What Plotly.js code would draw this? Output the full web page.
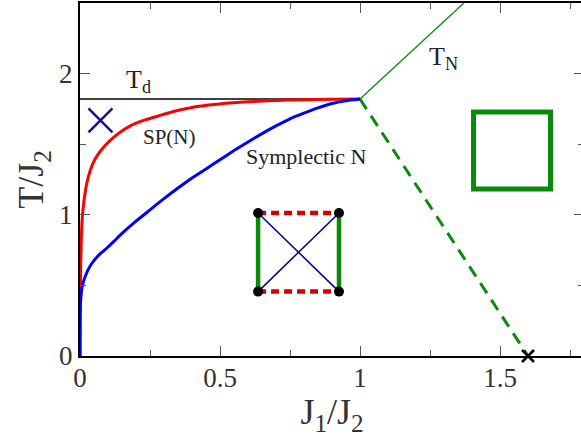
<!DOCTYPE html>
<html>
<head>
<meta charset="utf-8">
<script src="https://cdn.plot.ly/plotly-3.0.1.min.js"></script>
<style>
html,body{margin:0;padding:0;overflow:hidden;background:#fff;}
#chart{width:585px;height:437px;}
</style>
</head>
<body>
<div id="chart"></div>
<script>
// SP(N) curve (red)
const spJ = [0, 0.0005, 0.002, 0.005, 0.009, 0.015, 0.025, 0.036, 0.05, 0.065, 0.085, 0.11, 0.14, 0.18, 0.23, 0.28, 0.34, 0.40, 0.46, 0.52, 0.60, 0.70, 0.80, 0.90, 1.0];
const spT = [0, 0.30, 0.60, 0.85, 1.00, 1.11, 1.23, 1.31, 1.38, 1.43, 1.48, 1.53, 1.58, 1.63, 1.67, 1.70, 1.735, 1.76, 1.777, 1.79, 1.80, 1.81, 1.815, 1.818, 1.82];
// Symplectic N curve (blue)
const syJ = [0, 0.0003, 0.001, 0.003, 0.006, 0.012, 0.02, 0.03, 0.042, 0.06, 0.08, 0.10, 0.12, 0.15, 0.20, 0.25, 0.30, 0.35, 0.40, 0.45, 0.50, 0.55, 0.60, 0.65, 0.70, 0.75, 0.80, 0.85, 0.90, 0.95, 1.0];
const syT = [0, 0.22, 0.33, 0.415, 0.47, 0.525, 0.57, 0.615, 0.655, 0.70, 0.737, 0.772, 0.81, 0.868, 0.955, 1.035, 1.115, 1.19, 1.26, 1.325, 1.39, 1.455, 1.515, 1.575, 1.63, 1.68, 1.72, 1.757, 1.788, 1.808, 1.82];
// T_d line
const tdJ = [0, 1];
const tdT = [1.82, 1.82];
// T_N line
const tnJ = [1, 1.371];
const tnT = [1.82, 2.5];
// dashed boundary
const dashJ = [1, 1.6];
const dashT = [1.82, 0];
// end point marker
const endJ = [1.6];
const endT = [0];
// blue cross
const crossJ = [0.073];
const crossT = [1.668];
// green square symbol
const sqJ = [1.543];
const sqT = [1.455];
// inset plaquette corners
const insetJ = [0.636, 0.925];
const insetT = [0.456, 1.013];
const xTicks = [0, 0.5, 1, 1.5];
const xTickText = ['0', '0.5', '1', '1.5'];
const yTicks = [0, 1, 2];
const yTickText = ['0', '1', '2'];

const GREEN = '#0a8a0a';
const [inL, inR] = insetJ;
const [inB, inTop] = insetT;
const traces = [
  {x: tdJ, y: tdT, mode: 'lines', line: {color: '#000', width: 1.5}},
  {x: tnJ, y: tnT, mode: 'lines', line: {color: GREEN, width: 1.3}},
  {x: dashJ, y: dashT, mode: 'lines', line: {color: GREEN, width: 3, dash: '12px,8px'}},
  {x: spJ, y: spT, mode: 'lines', line: {color: '#ff0000', width: 3, shape: 'spline', smoothing: 0.4}},
  {x: syJ, y: syT, mode: 'lines', line: {color: '#0000ff', width: 3, shape: 'spline', smoothing: 0.4}},
  {x: endJ, y: endT, mode: 'markers', cliponaxis: false, marker: {symbol: 'x-thin', size: 12, line: {color: '#000', width: 2.5}}},
  {x: crossJ, y: crossT, mode: 'markers', marker: {symbol: 'x-thin', size: 24, line: {color: '#14148a', width: 2.5}}},
  {x: sqJ, y: sqT, mode: 'markers', marker: {symbol: 'square-open', size: 77, color: GREEN, line: {color: GREEN, width: 5}}},
  // inset
  {x: [inL, inR], y: [inTop, inB], mode: 'lines', line: {color: '#00008c', width: 1.5}},
  {x: [inL, inR], y: [inB, inTop], mode: 'lines', line: {color: '#00008c', width: 1.5}},
  {x: [inL, inR], y: [inTop, inTop], mode: 'lines', line: {color: '#d40000', width: 4.5, dash: '8px,5px'}},
  {x: [inL, inR], y: [inB, inB], mode: 'lines', line: {color: '#d40000', width: 4.5, dash: '8px,5px'}},
  {x: [inL, inL], y: [inB, inTop], mode: 'lines', line: {color: GREEN, width: 4.5}},
  {x: [inR, inR], y: [inB, inTop], mode: 'lines', line: {color: GREEN, width: 4.5}},
  {x: [inL, inR, inL, inR], y: [inTop, inTop, inB, inB], mode: 'markers', marker: {color: '#000', size: 10}}
];

const FONT = 'Liberation Serif';
const layout = {
  width: 585, height: 437,
  margin: {l: 80, r: 1, t: 3, b: 81},
  paper_bgcolor: '#fff', plot_bgcolor: '#fff',
  showlegend: false,
  font: {family: FONT, color: '#333'},
  xaxis: {
    range: [0, 1.8], showgrid: false, zeroline: false,
    showline: true, linecolor: '#000', linewidth: 2, mirror: 'ticks',
    ticks: 'inside', ticklen: 10, tickwidth: 1, tickcolor: '#555',
    tickvals: xTicks, ticktext: xTickText,
    minor: {dtick: 0.25, ticklen: 6, tickwidth: 1, tickcolor: '#555', ticks: 'inside'},
    tickfont: {family: FONT, size: 27, color: '#333'},
    ticklabelstandoff: -3,
    title: {text: 'J<sub>1</sub>/J<sub>2</sub>', font: {family: FONT, size: 36, color: '#333'}, standoff: 4},
    automargin: false
  },
  yaxis: {
    range: [0, 2.5], showgrid: false, zeroline: false,
    showline: true, linecolor: '#000', linewidth: 2, mirror: 'ticks',
    ticks: 'inside', ticklen: 10, tickwidth: 1, tickcolor: '#555',
    tickvals: yTicks, ticktext: yTickText,
    minor: {dtick: 0.5, ticklen: 6, tickwidth: 1, tickcolor: '#555', ticks: 'inside'},
    tickfont: {family: FONT, size: 27, color: '#333'},
    title: {text: 'T/J<sub>2</sub>', font: {family: FONT, size: 36, color: '#333'}, standoff: 4},
    automargin: false
  },
  annotations: [
    {x: 0.158, y: 1.95, xref: 'x', yref: 'y', xanchor: 'left', yanchor: 'middle', showarrow: false,
     text: 'T<sub>d</sub>', font: {family: FONT, size: 26, color: '#222'}},
    {x: 0.318, y: 1.55, xref: 'x', yref: 'y', xanchor: 'center', yanchor: 'middle', showarrow: false,
     text: 'SP(N)', font: {family: FONT, size: 21, color: '#222'}},
    {x: 0.807, y: 1.41, xref: 'x', yref: 'y', xanchor: 'center', yanchor: 'middle', showarrow: false,
     text: 'Symplectic N', font: {family: FONT, size: 22, color: '#222'}},
    {x: 1.24, y: 2.11, xref: 'x', yref: 'y', xanchor: 'left', yanchor: 'middle', showarrow: false,
     text: 'T<sub>N</sub>', font: {family: FONT, size: 26, color: '#222'}}
  ]
};

Plotly.newPlot('chart', traces, layout, {displayModeBar: false, staticPlot: true});
</script>
</body>
</html>
